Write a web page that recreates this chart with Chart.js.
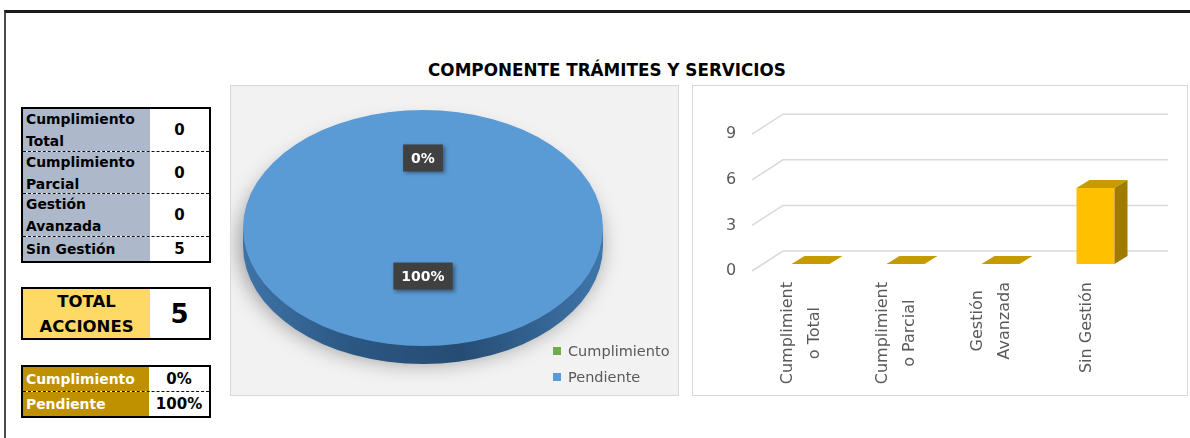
<!DOCTYPE html>
<html><head><meta charset="utf-8">
<script src="https://cdn.jsdelivr.net/npm/chart.js@4.4.0/dist/chart.umd.min.js"></script>
<style>
*{box-sizing:border-box}
body{margin:0;width:1190px;height:438px;overflow:hidden;background:#fff;font-family:"DejaVu Sans",sans-serif;position:relative}
.abs{position:absolute}
.frame{left:4px;top:10px;width:1300px;height:500px;border-top:3px solid #1a1a1a;border-left:2px solid #4a4a4a}
.title{left:0;top:60px;width:1214px;text-align:center;font-weight:bold;font-size:16.8px;line-height:20px;white-space:nowrap}
.tbl{border:2px solid #000;background:#fff}
.row{position:absolute;left:0;right:0;display:flex}
.lab{display:flex;flex-direction:column;justify-content:center;font-weight:bold;white-space:nowrap}
.val{flex:1;display:flex;align-items:center;justify-content:center;font-weight:bold;white-space:nowrap}
.sep{border-top:1.5px dashed #111}
.panel{border:1px solid #d9d9d9}
.leg{position:absolute;font-size:14.5px;color:#595959;white-space:nowrap;line-height:18px}
.leg i{position:absolute;left:-15px;top:5px;width:8px;height:8px}
</style></head><body>
<div class="abs frame"></div>
<div class="abs title">COMPONENTE TRÁMITES Y SERVICIOS</div>

<div class="abs tbl" id="t1" style="left:21px;top:107px;width:190px;height:156px"></div>
<div class="abs tbl" id="t2" style="left:21px;top:287px;width:190px;height:53px"></div>
<div class="abs tbl" id="t3" style="left:21px;top:365px;width:190px;height:53px"></div>

<div class="abs panel" style="left:230px;top:85px;width:449px;height:311px;background:#f2f2f2"></div>
<canvas id="pie" class="abs" width="447" height="309" style="left:231px;top:86px"></canvas>
<div id="legend"></div>

<div class="abs panel" style="left:692px;top:85px;width:496px;height:311px;background:#fff"></div>
<canvas id="bar" class="abs" width="493" height="308" style="left:693px;top:86px"></canvas>

<script>
// ---------- DATA ----------
const categories = ['Cumplimiento Total', 'Cumplimiento Parcial', 'Gestión Avanzada', 'Sin Gestión'];
const tableLabels = [['Cumplimiento', 'Total'], ['Cumplimiento', 'Parcial'], ['Gestión', 'Avanzada'], ['Sin Gestión']];
const barLabels = [['Cumplimient', 'o Total'], ['Cumplimient', 'o Parcial'], ['Gestión', 'Avanzada'], ['Sin Gestión']];
const barValues = [0, 0, 0, 5];
const yTicks = [0, 3, 6, 9];
const pieLabels = ['Cumplimiento', 'Pendiente'];
const pieValues = [0, 100];
const pieColors = ['#70ad47', '#5b9bd5'];
const totalLabel = ['TOTAL', 'ACCIONES'];

// ---------- TABLES ----------
(function () {
  const t1 = document.getElementById('t1');
  const rowH = [42, 42, 43, 25];
  let top = 0;
  tableLabels.forEach((lines, i) => {
    const r = document.createElement('div');
    r.className = 'row' + (i ? ' sep' : '');
    r.style.top = top + 'px'; r.style.height = rowH[i] + 'px';
    r.innerHTML = '<div class="lab" style="width:127px;background:#adb9ca;padding-left:3px;font-size:13.9px;line-height:22px">' +
      lines.join('<br>') + '</div><div class="val" style="font-size:15px">' + barValues[i] + '</div>';
    t1.appendChild(r);
    top += rowH[i];
  });
  const total = barValues.reduce((a, b) => a + b, 0);
  document.getElementById('t2').innerHTML =
    '<div class="row" style="top:0;height:49px"><div class="lab" style="width:127px;background:#ffd966;text-align:center;font-size:16.5px;line-height:25px">' +
    totalLabel.join('<br>') + '</div><div class="val" style="font-size:26px">' + total + '</div></div>';
  const pt = pieValues.reduce((a, b) => a + b, 0);
  const t3 = document.getElementById('t3');
  pieLabels.forEach((l, i) => {
    const r = document.createElement('div');
    r.className = 'row' + (i ? ' sep' : '');
    r.style.top = (i * 24) + 'px'; r.style.height = (i ? 25 : 24) + 'px';
    r.innerHTML = '<div class="lab" style="width:126px;background:#bf9000;color:#fff;padding-left:3px;font-size:13.9px">' + l +
      '</div><div class="val" style="font-size:15px">' + Math.round(pieValues[i] / pt * 100) + '%</div>';
    t3.appendChild(r);
  });
  const leg = document.getElementById('legend');
  pieLabels.forEach((l, i) => {
    const d = document.createElement('div');
    d.className = 'leg';
    d.style.left = '568px'; d.style.top = (342 + i * 26) + 'px';
    d.innerHTML = '<i style="background:' + pieColors[i] + '"></i>' + l;
    leg.appendChild(d);
  });
})();

// ---------- PIE ----------
const K = 0.656, DEPTH = 18;
const pie3d = {
  id: 'pie3d',
  beforeDatasetsDraw(chart) {
    const el = chart.getDatasetMeta(0).data[0];
    const x = el.x, y = el.y, R = el.outerRadius, ry = R * K, d = DEPTH;
    const ctx = chart.ctx;
    ctx.save();
    ctx.shadowColor = 'rgba(0,0,0,0.4)'; ctx.shadowBlur = 22; ctx.shadowOffsetY = 7; ctx.shadowOffsetX = -3;
    ctx.beginPath(); ctx.ellipse(x, y + d / 2, R, ry, 0, 0, Math.PI * 2);
    ctx.fillStyle = '#2a5480'; ctx.fill();
    ctx.restore();
    ctx.save();
    ctx.beginPath();
    ctx.moveTo(x - R, y); ctx.lineTo(x - R, y + d);
    ctx.ellipse(x, y + d, R, ry, 0, Math.PI, 0, true);
    ctx.lineTo(x + R, y);
    ctx.ellipse(x, y, R, ry, 0, 0, Math.PI, false);
    ctx.closePath();
    const g = ctx.createLinearGradient(x - R, 0, x + R, 0);
    g.addColorStop(0, '#3f74a8'); g.addColorStop(0.3, '#2b5783');
    g.addColorStop(0.6, '#264c73'); g.addColorStop(1, '#3f76ab');
    ctx.fillStyle = g; ctx.fill();
    ctx.restore();
    ctx.save();
    ctx.translate(x, y); ctx.scale(1, K); ctx.translate(-x, -y);
  },
  afterDatasetsDraw(chart) {
    const ctx = chart.ctx;
    ctx.restore();
    const meta = chart.getDatasetMeta(0);
    const total = pieValues.reduce((a, b) => a + b, 0);
    meta.data.forEach((el, i) => {
      const p = el.tooltipPosition();
      const px = p.x, py = el.y + (p.y - el.y) * K - 11;
      const txt = Math.round(pieValues[i] / total * 100) + '%';
      ctx.save();
      ctx.font = 'bold 14px "DejaVu Sans"';
      const w = ctx.measureText(txt).width + 16, h = 27;
      ctx.shadowColor = 'rgba(0,0,0,0.4)'; ctx.shadowBlur = 4; ctx.shadowOffsetX = 2; ctx.shadowOffsetY = 2;
      ctx.fillStyle = '#404040';
      ctx.fillRect(px - w / 2, py - h / 2, w, h);
      ctx.shadowColor = 'transparent';
      ctx.fillStyle = '#fff'; ctx.textAlign = 'center'; ctx.textBaseline = 'middle';
      ctx.fillText(txt, px, py + 1);
      ctx.restore();
    });
  }
};
new Chart(document.getElementById('pie'), {
  type: 'pie',
  data: { labels: pieLabels, datasets: [{ data: pieValues, backgroundColor: pieColors, borderWidth: 0, radius: 180 }] },
  options: {
    responsive: false, animation: false, devicePixelRatio: 1,
    layout: { padding: { left: 0, right: 63, top: 0, bottom: 25 } },
    plugins: { legend: { display: false }, tooltip: { enabled: false } }
  },
  plugins: [pie3d]
});

// ---------- BAR ----------
const DX = 13, DY = -8;
const bar3d = {
  id: 'bar3d',
  beforeDatasetsDraw(chart) {
    const ctx = chart.ctx, ys = chart.scales.y, a = chart.chartArea;
    ctx.save();
    ctx.strokeStyle = '#d9d9d9'; ctx.lineWidth = 1.5;
    yTicks.forEach(v => {
      const py = ys.getPixelForValue(v);
      ctx.beginPath();
      ctx.moveTo(a.left - 11, py + 7); ctx.lineTo(a.left + 20, py - 13); ctx.lineTo(a.right + 25, py - 13);
      ctx.stroke();
    });
    ctx.restore();
  },
  afterDatasetsDraw(chart) {
    const ctx = chart.ctx;
    ctx.save();
    chart.getDatasetMeta(0).data.forEach(b => {
      const { x, y, base, width } = b.getProps(['x', 'y', 'base', 'width'], true);
      const l = x - width / 2, r = x + width / 2;
      ctx.fillStyle = '#c59b00';
      ctx.beginPath(); ctx.moveTo(l, y); ctx.lineTo(r, y); ctx.lineTo(r + DX, y + DY); ctx.lineTo(l + DX, y + DY); ctx.closePath(); ctx.fill();
      if (base - y > 0.5) {
        ctx.fillStyle = '#a17b00';
        ctx.beginPath(); ctx.moveTo(r, y); ctx.lineTo(r + DX, y + DY); ctx.lineTo(r + DX, base + DY); ctx.lineTo(r, base); ctx.closePath(); ctx.fill();
      }
    });
    // category labels (rotated, lines centred)
    const xs = chart.scales.x;
    ctx.font = '16px "DejaVu Sans"'; ctx.fillStyle = '#595959';
    ctx.textAlign = 'center'; ctx.textBaseline = 'middle';
    const lineH = 27.5, topY = 196;
    barLabels.forEach((lines, i) => {
      const maxW = Math.max(...lines.map(s => ctx.measureText(s).width));
      const cx = xs.getPixelForValue(i) - 9, cy = topY + maxW / 2;
      ctx.save(); ctx.translate(cx, cy); ctx.rotate(-Math.PI / 2);
      lines.forEach((s, j) => ctx.fillText(s, 0, (j - (lines.length - 1) / 2) * lineH));
      ctx.restore();
    });
    ctx.restore();
  }
};
new Chart(document.getElementById('bar'), {
  type: 'bar',
  data: { labels: categories, datasets: [{ data: barValues, backgroundColor: '#ffc000', borderWidth: 0, barPercentage: 0.4, categoryPercentage: 1 }] },
  options: {
    responsive: false, animation: false, devicePixelRatio: 1,
    layout: { padding: { left: 33, right: 43, top: 26, bottom: 130 } },
    plugins: { legend: { display: false }, tooltip: { enabled: false } },
    scales: {
      x: { display: false },
      y: {
        min: 0, max: 10,
        grid: { display: false, drawTicks: false }, border: { display: false },
        afterBuildTicks: s => { s.ticks = yTicks.map(v => ({ value: v })); },
        afterFit: s => { s.width = 37; },
        ticks: { padding: 0, crossAlign: 'far', labelOffset: 7, color: '#595959', font: { family: 'DejaVu Sans', size: 16 } }
      }
    }
  },
  plugins: [bar3d]
});
</script>
</body></html>
